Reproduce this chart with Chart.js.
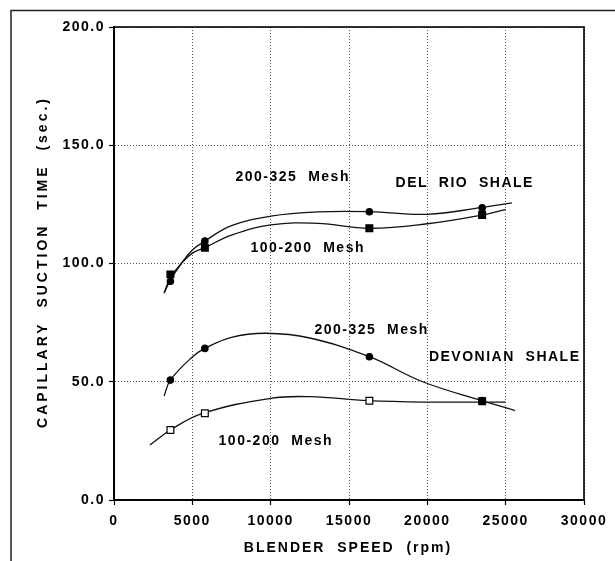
<!DOCTYPE html>
<html>
<head>
<meta charset="utf-8">
<script src="https://cdn.jsdelivr.net/npm/chart.js@4"></script>
<style>
  html, body { margin: 0; padding: 0; background: #fff; }
  #wrap { width: 615px; height: 561px; position: relative; }
</style>
</head>
<body>
<div id="wrap"><canvas id="cst"></canvas></div>
<script>
// tick values
const xTicks = [0, 5000, 10000, 15000, 20000, 25000, 30000];
const yTicks = [0, 50, 100, 150, 200];

// measured points (rpm, sec.)
const speedX = [3600, 5800, 16300, 23500];
const delRioFine = [92.5, 109.5, 121.9, 123.5];     // 200-325 mesh
const delRioCoarse = [95.4, 106.7, 114.9, 120.5];   // 100-200 mesh
const devonianFine = [50.7, 64.1, 60.6, 42.0];      // 200-325 mesh
const devonianCoarse = [29.6, 36.7, 42.0, 41.8];    // 100-200 mesh

// fitted curves
const delRioFineCurveX = [3200, 3600, 4300, 5000, 5800, 7500, 10000, 13000, 16300, 20000, 23500, 25400];
const delRioFineCurveY = [87.5, 93, 100, 105.7, 109.5, 116, 120, 121.8, 121.9, 120.8, 123.7, 125.6];
const delRioCoarseCurveX = [3200, 3600, 4300, 5000, 5800, 7500, 10000, 13000, 16300, 20000, 23500, 25000];
const delRioCoarseCurveY = [87.5, 94, 100, 104.4, 106.7, 112, 116.3, 117, 114.9, 116.8, 120.5, 122.9];
const devonianFineCurveX = [3200, 3600, 5000, 5800, 7500, 9700, 12500, 16300, 19700, 23500, 25600];
const devonianFineCurveY = [44, 50.7, 60.5, 64.1, 68.8, 70.5, 68.5, 60.6, 50, 42, 37.8];
const devonianCoarseCurveX = [2300, 3600, 5700, 10000, 12500, 16200, 20000, 25000];
const devonianCoarseCurveY = [23.3, 29.6, 36.7, 43, 43.7, 42, 41.4, 41.4];

// text placed on the plot (data units)
const noteText = ["200-325  Mesh", "DEL  RIO  SHALE", "100-200  Mesh", "200-325  Mesh", "DEVONIAN  SHALE", "100-200  Mesh"];
const noteX = [11360, 22340, 12320, 16400, 24890, 10280];
const noteY = [136.6, 134, 106.5, 71.9, 60.5, 24.9];

const xTitle = "BLENDER  SPEED  (rpm)";
const yTitle = "CAPILLARY  SUCTION  TIME  (sec.)";

const FONT = "'Liberation Sans', Arial, sans-serif";

function pairs(xs, ys) {
  return xs.map((x, i) => ({ x: x, y: ys[i] }));
}

function curve(xs, ys) {
  return {
    data: pairs(xs, ys),
    borderColor: "#111",
    borderWidth: 1.3,
    pointRadius: 0,
    tension: 0.4,
    fill: false,
    order: 2,
  };
}

function markers(ys, style, radius, fill) {
  return {
    data: pairs(speedX, ys),
    showLine: false,
    pointStyle: style,
    pointRadius: radius,
    pointBackgroundColor: fill,
    pointBorderColor: "#000",
    pointBorderWidth: 1.2,
    order: 1,
  };
}

function spacedText(ctx, text, x, y, spacing) {
  ctx.letterSpacing = spacing + "px";
  const w = ctx.measureText(text).width - spacing;
  ctx.textAlign = "left";
  ctx.fillText(text, x - w / 2, y);
}

const decorPlugin = {
  id: "decor",
  beforeDraw(chart) {
    const ctx = chart.ctx;
    ctx.save();
    ctx.strokeStyle = "#222";
    ctx.lineWidth = 1.5;
    ctx.beginPath();
    ctx.moveTo(11, 561);
    ctx.lineTo(11, 10.5);
    ctx.lineTo(615, 10.5);
    ctx.stroke();
    ctx.restore();
    ctx.letterSpacing = "1.5px";
  },
  afterDraw(chart) {
    const ctx = chart.ctx;
    const a = chart.chartArea;
    const xs = chart.scales.x;
    const ys = chart.scales.y;
    ctx.save();
    ctx.strokeStyle = "#000";
    ctx.lineWidth = 1.6;
    ctx.strokeRect(a.left, a.top, a.right - a.left, a.bottom - a.top);

    ctx.fillStyle = "#000";
    ctx.textBaseline = "middle";
    ctx.font = "bold 14px " + FONT;
    noteText.forEach((t, i) => {
      spacedText(ctx, t, xs.getPixelForValue(noteX[i]), ys.getPixelForValue(noteY[i]), 1.5);
    });

    spacedText(ctx, xTitle, (a.left + a.right) / 2 - 2, 548, 2);

    ctx.translate(43, (a.top + a.bottom) / 2);
    ctx.rotate(-Math.PI / 2);
    spacedText(ctx, yTitle, 0, 0, 3);
    ctx.restore();
    ctx.letterSpacing = "0px";
  },
};

const gridCommon = {
  color: "#555",
  lineWidth: 1,
  drawTicks: true,
  tickLength: 5,
  tickColor: "#000",
  tickWidth: 1.2,
  tickBorderDash: [],
};

new Chart(document.getElementById("cst"), {
  type: "line",
  data: {
    datasets: [
      markers(delRioFine, "circle", 3.2, "#000"),
      markers(delRioCoarse, "rect", 4.8, "#000"),
      markers(devonianFine, "circle", 3.2, "#000"),
      markers(devonianCoarse, "rect", 4.8, ["#fff", "#fff", "#fff", "#000"]),
      curve(delRioFineCurveX, delRioFineCurveY),
      curve(delRioCoarseCurveX, delRioCoarseCurveY),
      curve(devonianFineCurveX, devonianFineCurveY),
      curve(devonianCoarseCurveX, devonianCoarseCurveY),
    ],
  },
  options: {
    responsive: true,
    maintainAspectRatio: false,
    animation: false,
    layout: { padding: { left: 0, top: 27, right: 31, bottom: 0 } },
    plugins: {
      legend: { display: false },
      tooltip: { enabled: false },
    },
    scales: {
      x: {
        type: "linear",
        min: xTicks[0],
        max: xTicks[xTicks.length - 1],
        afterBuildTicks(scale) {
          scale.ticks = xTicks.map((v) => ({ value: v }));
        },
        afterFit(scale) {
          scale.height = 61;
        },
        grid: gridCommon,
        border: { display: true, color: "#000", width: 1.8, dash: [1, 2] },
        ticks: {
          color: "#000",
          padding: 8,
          maxRotation: 0,
          font: { family: FONT, size: 14, weight: "bold" },
          callback: (v) => String(v),
        },
      },
      y: {
        min: yTicks[0],
        max: yTicks[yTicks.length - 1],
        afterBuildTicks(scale) {
          scale.ticks = yTicks.map((v) => ({ value: v }));
        },
        afterFit(scale) {
          scale.width = 114;
        },
        grid: gridCommon,
        border: { display: true, color: "#000", width: 2, dash: [1, 2] },
        ticks: {
          color: "#000",
          padding: 4,
          font: { family: FONT, size: 14, weight: "bold" },
          callback: (v) => Number(v).toFixed(1),
        },
      },
    },
  },
  plugins: [decorPlugin],
});
</script>
</body>
</html>
